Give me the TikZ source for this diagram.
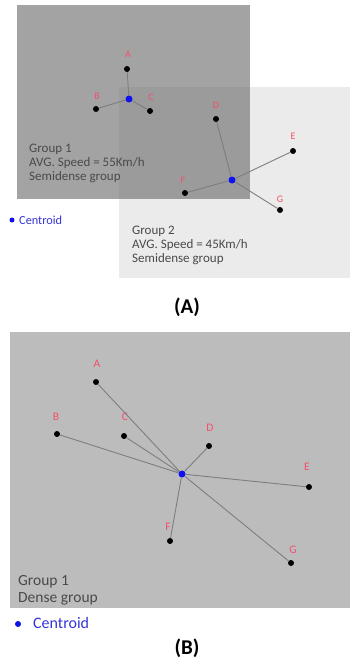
\documentclass[tikz,border=0pt]{standalone}
\usepackage{fontspec}
\setmainfont{Carlito}
\definecolor{labred}{HTML}{F2506A}
\definecolor{linkgray}{HTML}{7E7E7E}
\definecolor{txtgray}{HTML}{4A4A4A}
\definecolor{gonefill}{HTML}{A3A3A3}
\definecolor{gtwofill}{HTML}{EBEBEB}
\definecolor{overfill}{HTML}{9B9B9B}
\definecolor{bfill}{HTML}{BCBCBC}
\definecolor{cenblue}{HTML}{1010F0}
\definecolor{legblue}{HTML}{3535D8}
\begin{document}
\begin{tikzpicture}[x=1pt,y=-1pt,
  dot/.style={circle,fill=black,inner sep=0pt,minimum size=6pt},
  cen/.style={circle,fill=cenblue,inner sep=0pt,minimum size=7pt},
  lab/.style={text=labred,inner sep=0pt},
  laba/.style={lab,font=\fontsize{10}{11}\selectfont},
  labb/.style={lab,font=\fontsize{11.5}{12}\selectfont},
  link/.style={draw=linkgray,line width=0.9pt},
  grptxt/.style={align=left,anchor=base west,text=txtgray,inner sep=0pt},
  legtxt/.style={anchor=west,text=legblue,inner sep=0pt},
  captxt/.style={font=\fontsize{21}{24}\bfseries\selectfont,inner sep=0pt}]
\useasboundingbox (0,0) rectangle (350,666);
\fill[white] (0,0) rectangle (350,666);
% ---------- Part A ----------
\fill[gtwofill] (119,87) rectangle (350,278);
\fill[gonefill] (17,5) rectangle (250,199);
\fill[overfill] (119,87) rectangle (250,199);
% group 1
\node[cen] (ca) at (129,99) {};
\node[dot] (aa) at (127,69) {};
\node[dot] (ab) at (96,109) {};
\node[dot] (ac) at (150,111) {};
\node[laba] (laa) at (128,54) {A};
\node[laba] (lab) at (97,96) {B};
\node[laba] (lac) at (151,97) {C};
\draw[link] (ca) -- (aa);
\draw[link] (ca) -- (ab);
\draw[link] (ca) -- (ac);
% group 2
\node[cen] (cb) at (232,180) {};
\node[dot] (ad) at (216,119) {};
\node[dot] (ae) at (293,151) {};
\node[dot] (af) at (185,193) {};
\node[dot] (ag) at (280,210) {};
\node[laba] (lad) at (216,105) {D};
\node[laba] (lae) at (293,136) {E};
\node[laba] (laf) at (183,180) {F};
\node[laba] (lag) at (280,199) {G};
\draw[link] (cb) -- (ad);
\draw[link] (cb) -- (ae);
\draw[link] (cb) -- (af);
\draw[link] (cb) -- (ag);
\node[grptxt,font=\fontsize{13}{14}\selectfont] (ta) at (29,180) {Group 1\\AVG. Speed = 55Km/h\\Semidense group};
\node[grptxt,font=\fontsize{13}{14}\selectfont] (tb) at (132,262) {Group 2\\AVG. Speed = 45Km/h\\Semidense group};
\node[circle,fill=cenblue,inner sep=0pt,minimum size=5pt] (lca) at (12,220) {};
\node[legtxt,font=\fontsize{12.3}{14}\selectfont] (lta) at (19,220) {Centroid};
\node[captxt] (capa) at (187,307) {(A)};
% ---------- Part B ----------
\fill[bfill] (10,332) rectangle (350,608);
\node[cen] (cc) at (182,474) {};
\node[dot] (ba) at (96,382) {};
\node[dot] (bb) at (57,434) {};
\node[dot] (bc) at (124,436) {};
\node[dot] (bd) at (209,446) {};
\node[dot] (be) at (309,487) {};
\node[dot] (bf) at (170,541) {};
\node[dot] (bg) at (291,563) {};
\node[labb] (lba) at (97,364) {A};
\node[labb] (lbb) at (56,417) {B};
\node[labb] (lbc) at (125,417) {C};
\node[labb] (lbd) at (210,428) {D};
\node[labb] (lbe) at (307,467) {E};
\node[labb] (lbf) at (168,527) {F};
\node[labb] (lbg) at (293,550) {G};
\foreach \n in {ba,bb,bc,bd,be,bf,bg} \draw[link] (cc) -- (\n);
\node[grptxt,font=\fontsize{15.5}{17}\selectfont] (tc) at (18,602) {Group 1\\Dense group};
\node[circle,fill=cenblue,inner sep=0pt,minimum size=6pt] (lcb) at (18,624) {};
\node[legtxt,font=\fontsize{16}{18}\selectfont] (ltb) at (33,623) {Centroid};
\node[captxt] (capb) at (187,648) {(B)};
\end{tikzpicture}
\end{document}
